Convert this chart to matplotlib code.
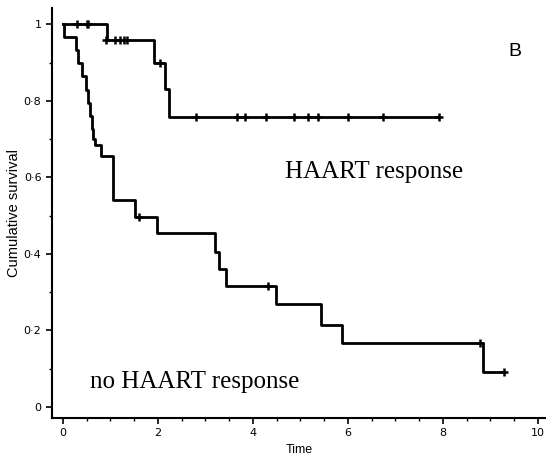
import matplotlib
matplotlib.use('Agg')
import matplotlib.pyplot as plt
from matplotlib.ticker import MultipleLocator

# HAART response: step times and survival after each step
haart_t = [0.0, 0.93, 1.92, 2.16, 2.23]
haart_s = [1.0, 0.96, 0.90, 0.83, 0.758]
haart_end = 7.92
haart_cens_t = [0.29, 0.50, 0.53, 0.90, 1.10, 1.20, 1.28, 1.35, 2.04,
                2.80, 3.66, 3.83, 4.27, 4.86, 5.16, 5.37, 6.00, 6.74, 7.92]
haart_cens_s = [1.0, 1.0, 1.0, 0.96, 0.96, 0.96, 0.96, 0.96, 0.90,
                0.758, 0.758, 0.758, 0.758, 0.758, 0.758, 0.758, 0.758, 0.758, 0.758]

# no HAART response
no_t = [0.0, 0.03, 0.27, 0.31, 0.40, 0.49, 0.53, 0.57, 0.61, 0.64, 0.68, 0.81, 1.05,
        1.53, 1.99, 3.20, 3.28, 3.43, 4.48, 5.43, 5.87, 8.85]
no_s = [1.0, 0.967, 0.933, 0.898, 0.864, 0.829, 0.795, 0.760, 0.726, 0.70, 0.685, 0.657,
        0.541, 0.497, 0.454, 0.406, 0.36, 0.316, 0.269, 0.214, 0.167, 0.092]
no_end = 9.29
no_cens_t = [1.60, 4.32, 8.78, 9.29]
no_cens_s = [0.497, 0.316, 0.167, 0.092]

ytick_vals = [0, 0.2, 0.4, 0.6, 0.8, 1.0]
ytick_labels = ['0', '0\u00b72', '0\u00b74', '0\u00b76', '0\u00b78', '1']
xtick_vals = [0, 2, 4, 6, 8, 10]

fig = plt.figure(figsize=(5.46, 4.67), dpi=100)
ax = fig.add_axes([0.095, 0.105, 0.905, 0.878])

ax.step(haart_t + [haart_end], haart_s + [haart_s[-1]], where='post',
        color='black', lw=2.0)
ax.plot(haart_cens_t, haart_cens_s, ls='none', marker='+', ms=5.5, mew=1.8,
        color='black')
ax.step(no_t + [no_end], no_s + [no_s[-1]], where='post', color='black', lw=2.0)
ax.plot(no_cens_t, no_cens_s, ls='none', marker='+', ms=5.5, mew=1.8,
        color='black')

ax.set_xlim(-0.23, 10.17)
ax.set_ylim(-0.029, 1.043)
ax.spines['top'].set_visible(False)
ax.spines['right'].set_visible(False)
ax.spines['left'].set_linewidth(1.5)
ax.spines['bottom'].set_linewidth(1.5)

ax.set_xticks(xtick_vals)
ax.set_xticklabels([str(v) for v in xtick_vals], fontsize=8)
ax.xaxis.set_minor_locator(MultipleLocator(0.5))
ax.set_yticks(ytick_vals)
ax.set_yticklabels(ytick_labels, fontsize=8)
ax.yaxis.set_minor_locator(MultipleLocator(0.1))
ax.tick_params(which='major', length=4, width=1.2)
ax.tick_params(which='minor', length=2.5, width=1.0)

ax.set_ylabel('Cumulative survival', fontsize=10.5, family='Liberation Sans',
              labelpad=2)
ax.set_xlabel('Time', fontsize=9, family='Liberation Sans', labelpad=4)

ax.text(8.42, 0.615, 'HAART response', fontsize=18, family='Liberation Serif',
        ha='right', va='center')
ax.text(0.57, 0.065, 'no HAART response', fontsize=18, family='Liberation Serif',
        ha='left', va='center')
ax.text(9.52, 0.93, 'B', fontsize=14, family='Liberation Sans',
        ha='center', va='center')

fig.savefig('out.png', dpi=100)
